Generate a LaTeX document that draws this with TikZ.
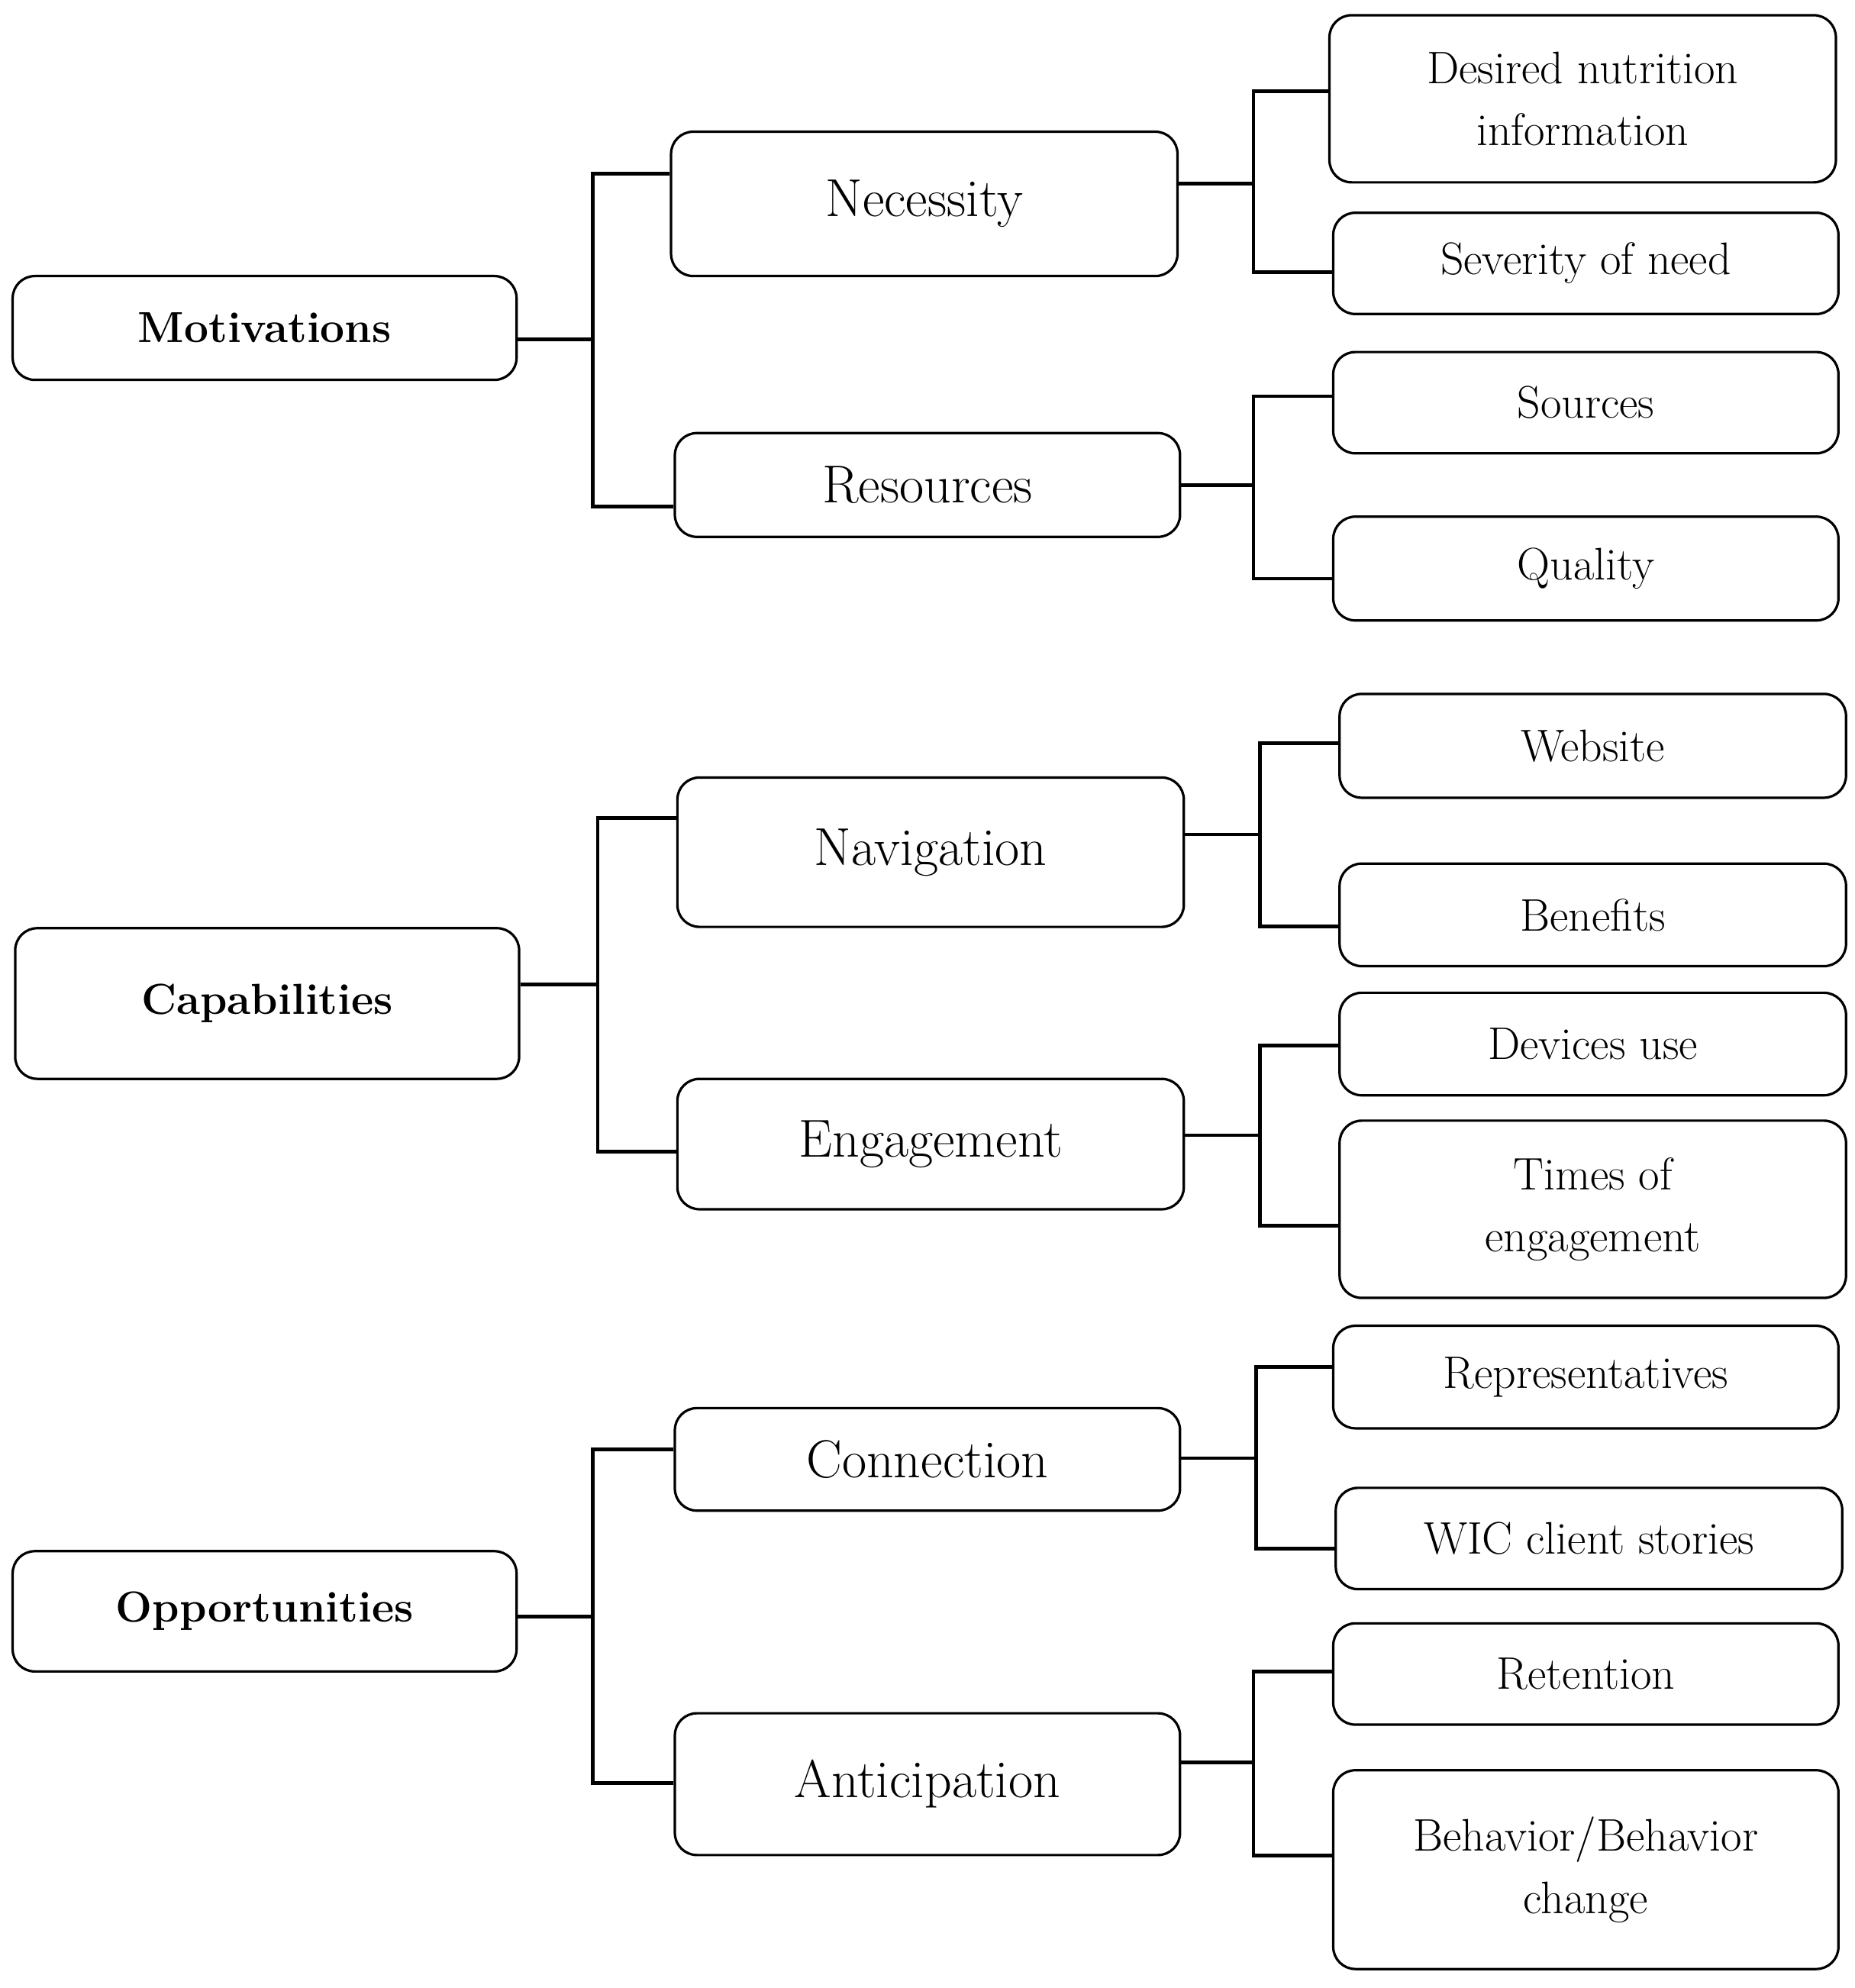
\documentclass[tikz,border=0pt]{standalone}
\usetikzlibrary{calc}
\begin{document}
\begin{tikzpicture}[x=0.02cm,y=-0.02cm,
 bx/.style={draw,line width=1.1pt,rounded corners=0.35cm,align=center,inner sep=0pt},
 root/.style={bx,font=\fontsize{19.5}{23}\selectfont\bfseries},
 mid/.style={bx,font=\fontsize{24}{28}\selectfont},
 leaf/.style={bx,font=\fontsize{20.5}{28}\selectfont},
 con/.style={line width=1.6pt}]
\useasboundingbox (0,0) rectangle (1465,1570);
\def\B#1#2#3#4#5#6#7{\node[#1,minimum width={(#5-#3)*0.02cm},minimum height={(#6-#4)*0.02cm}] (#2) at ({(#3+#5)/2},{(#4+#6)/2}) {#7};}
\B{root}{mot}{10}{218}{408}{300}{Motivations}
\B{mid}{nec}{530}{104}{930}{218}{Necessity}
\B{mid}{res}{533}{342}{932}{424}{Resources}
\B{leaf}{des}{1050}{12}{1450}{144}{Desired nutrition\\information}
\B{leaf}{sev}{1053}{168}{1452}{248}{Severity of need}
\B{leaf}{sou}{1053}{278}{1452}{358}{Sources}
\B{leaf}{qua}{1053}{408}{1452}{490}{Quality}
\B{root}{cap}{12}{733}{410}{852}{Capabilities}
\B{mid}{nav}{535}{614}{935}{732}{Navigation}
\B{mid}{eng}{535}{852}{935}{955}{Engagement}
\B{leaf}{web}{1058}{548}{1458}{630}{Website}
\B{leaf}{ben}{1058}{682}{1458}{763}{Benefits}
\B{leaf}{dev}{1058}{784}{1458}{865}{Devices use}
\B{leaf}{tim}{1058}{885}{1458}{1025}{Times of\\engagement}
\B{root}{opp}{10}{1225}{408}{1320}{Opportunities}
\B{mid}{con}{533}{1112}{932}{1193}{Connection}
\B{mid}{ant}{533}{1353}{932}{1465}{Anticipation}
\B{leaf}{rep}{1053}{1047}{1452}{1128}{Representatives}
\B{leaf}{wic}{1055}{1175}{1455}{1255}{WIC client stories}
\B{leaf}{ret}{1053}{1282}{1452}{1362}{Retention}
\B{leaf}{beh}{1053}{1398}{1452}{1555}{Behavior/Behavior\\change}
% #1 parent, #2 exit dy, #3 bus x, #4 child1, #5 dy1, #6 child2, #7 dy2
\def\C#1#2#3#4#5#6#7{%
 \coordinate (s#1) at ($(#1.east)+(0,#2)$);
 \coordinate (x#1) at (#3,0);
 \coordinate (b#1) at (s#1 -| x#1);
 \draw[con] (s#1) -- (b#1);
 \draw[con] ($(#4.west)+(0,#5)$) -| (b#1) |- ($(#6.west)+(0,#7)$);}
\C{mot}{9}{468}{nec}{-24}{res}{17}
\C{nec}{-16}{990}{des}{-6}{sev}{7}
\C{res}{0}{990}{sou}{-5}{qua}{8}
\C{cap}{-15}{472}{nav}{-27}{eng}{6}
\C{nav}{-14}{995}{web}{-2}{ben}{9}
\C{eng}{-7}{995}{dev}{1}{tim}{13}
\C{opp}{4}{468}{con}{-8}{ant}{-1}
\C{con}{-1}{992}{rep}{-8}{wic}{8}
\C{ant}{-17}{990}{ret}{-2}{beh}{-11}
\end{tikzpicture}
\end{document}
